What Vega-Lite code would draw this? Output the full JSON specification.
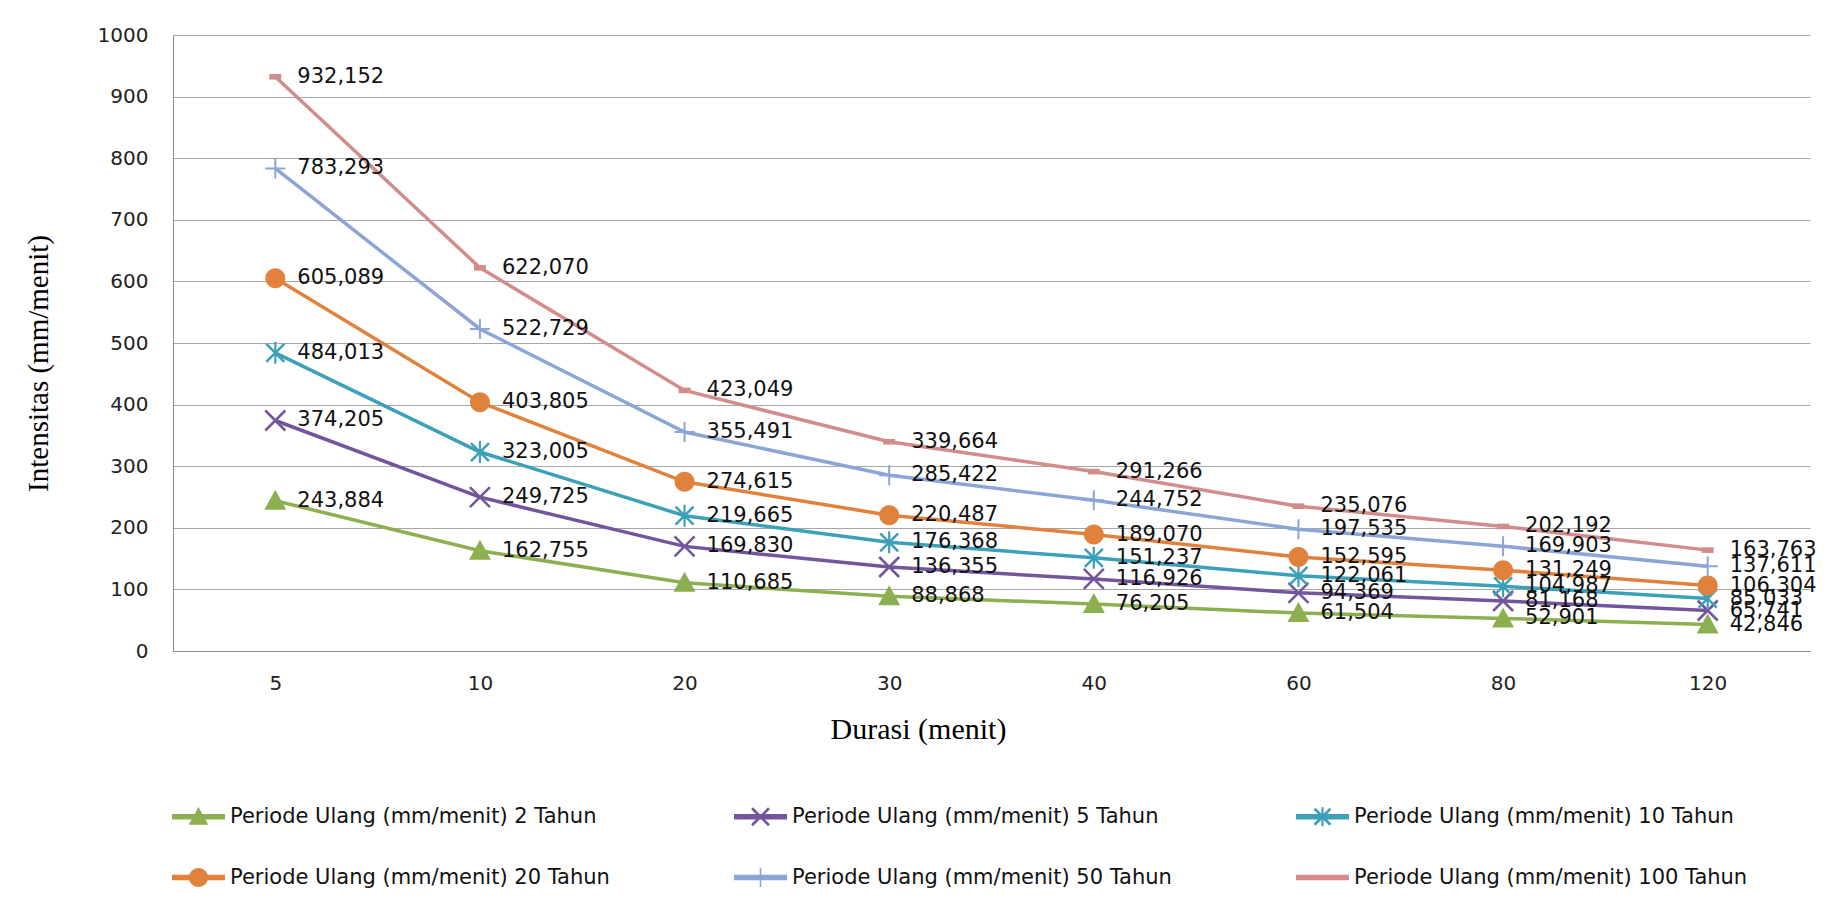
{
  "$schema": "https://vega.github.io/schema/vega-lite/v6.json",
  "width": 1637,
  "height": 616,
  "autosize": "none",
  "padding": {"left": 173, "top": 35, "right": 19, "bottom": 260},
  "background": "white",
  "config": {
    "locale": {"number": {"decimal": ",", "thousands": ".", "grouping": [3], "currency": ["", ""]}},
    "view": {"stroke": null},
    "axis": {
      "domainColor": "#8c8c8c",
      "gridColor": "#a6a6a6",
      "ticks": false,
      "tickSize": 0,
      "labelFont": "DejaVu Sans",
      "labelFontSize": 20,
      "labelColor": "#222222",
      "titleFont": "Liberation Serif",
      "titleFontSize": 30,
      "titleFontWeight": "normal",
      "titleColor": "#000000"
    },
    "legend": {
      "symbolStrokeWidth": 0,
      "labelFont": "DejaVu Sans",
      "labelFontSize": 21,
      "labelColor": "#111111",
      "labelLimit": 1000,
      "padding": 0
    }
  },
  "data": {
    "values": [
      {"d": 5, "series": "Periode Ulang (mm/menit) 2 Tahun", "v": 243.884},
      {"d": 10, "series": "Periode Ulang (mm/menit) 2 Tahun", "v": 162.755},
      {"d": 20, "series": "Periode Ulang (mm/menit) 2 Tahun", "v": 110.685},
      {"d": 30, "series": "Periode Ulang (mm/menit) 2 Tahun", "v": 88.868},
      {"d": 40, "series": "Periode Ulang (mm/menit) 2 Tahun", "v": 76.205},
      {"d": 60, "series": "Periode Ulang (mm/menit) 2 Tahun", "v": 61.504},
      {"d": 80, "series": "Periode Ulang (mm/menit) 2 Tahun", "v": 52.901},
      {"d": 120, "series": "Periode Ulang (mm/menit) 2 Tahun", "v": 42.846},
      {"d": 5, "series": "Periode Ulang (mm/menit) 5 Tahun", "v": 374.205},
      {"d": 10, "series": "Periode Ulang (mm/menit) 5 Tahun", "v": 249.725},
      {"d": 20, "series": "Periode Ulang (mm/menit) 5 Tahun", "v": 169.830},
      {"d": 30, "series": "Periode Ulang (mm/menit) 5 Tahun", "v": 136.355},
      {"d": 40, "series": "Periode Ulang (mm/menit) 5 Tahun", "v": 116.926},
      {"d": 60, "series": "Periode Ulang (mm/menit) 5 Tahun", "v": 94.369},
      {"d": 80, "series": "Periode Ulang (mm/menit) 5 Tahun", "v": 81.168},
      {"d": 120, "series": "Periode Ulang (mm/menit) 5 Tahun", "v": 65.741},
      {"d": 5, "series": "Periode Ulang (mm/menit) 10 Tahun", "v": 484.013},
      {"d": 10, "series": "Periode Ulang (mm/menit) 10 Tahun", "v": 323.005},
      {"d": 20, "series": "Periode Ulang (mm/menit) 10 Tahun", "v": 219.665},
      {"d": 30, "series": "Periode Ulang (mm/menit) 10 Tahun", "v": 176.368},
      {"d": 40, "series": "Periode Ulang (mm/menit) 10 Tahun", "v": 151.237},
      {"d": 60, "series": "Periode Ulang (mm/menit) 10 Tahun", "v": 122.061},
      {"d": 80, "series": "Periode Ulang (mm/menit) 10 Tahun", "v": 104.987},
      {"d": 120, "series": "Periode Ulang (mm/menit) 10 Tahun", "v": 85.033},
      {"d": 5, "series": "Periode Ulang (mm/menit) 20 Tahun", "v": 605.089},
      {"d": 10, "series": "Periode Ulang (mm/menit) 20 Tahun", "v": 403.805},
      {"d": 20, "series": "Periode Ulang (mm/menit) 20 Tahun", "v": 274.615},
      {"d": 30, "series": "Periode Ulang (mm/menit) 20 Tahun", "v": 220.487},
      {"d": 40, "series": "Periode Ulang (mm/menit) 20 Tahun", "v": 189.070},
      {"d": 60, "series": "Periode Ulang (mm/menit) 20 Tahun", "v": 152.595},
      {"d": 80, "series": "Periode Ulang (mm/menit) 20 Tahun", "v": 131.249},
      {"d": 120, "series": "Periode Ulang (mm/menit) 20 Tahun", "v": 106.304},
      {"d": 5, "series": "Periode Ulang (mm/menit) 50 Tahun", "v": 783.293},
      {"d": 10, "series": "Periode Ulang (mm/menit) 50 Tahun", "v": 522.729},
      {"d": 20, "series": "Periode Ulang (mm/menit) 50 Tahun", "v": 355.491},
      {"d": 30, "series": "Periode Ulang (mm/menit) 50 Tahun", "v": 285.422},
      {"d": 40, "series": "Periode Ulang (mm/menit) 50 Tahun", "v": 244.752},
      {"d": 60, "series": "Periode Ulang (mm/menit) 50 Tahun", "v": 197.535},
      {"d": 80, "series": "Periode Ulang (mm/menit) 50 Tahun", "v": 169.903},
      {"d": 120, "series": "Periode Ulang (mm/menit) 50 Tahun", "v": 137.611},
      {"d": 5, "series": "Periode Ulang (mm/menit) 100 Tahun", "v": 932.152},
      {"d": 10, "series": "Periode Ulang (mm/menit) 100 Tahun", "v": 622.070},
      {"d": 20, "series": "Periode Ulang (mm/menit) 100 Tahun", "v": 423.049},
      {"d": 30, "series": "Periode Ulang (mm/menit) 100 Tahun", "v": 339.664},
      {"d": 40, "series": "Periode Ulang (mm/menit) 100 Tahun", "v": 291.266},
      {"d": 60, "series": "Periode Ulang (mm/menit) 100 Tahun", "v": 235.076},
      {"d": 80, "series": "Periode Ulang (mm/menit) 100 Tahun", "v": 202.192},
      {"d": 120, "series": "Periode Ulang (mm/menit) 100 Tahun", "v": 163.763}
    ]
  },
  "layer": [
    {
      "mark": {"type": "line", "strokeWidth": 3.5},
      "encoding": {
        "x": {
          "field": "d", "type": "ordinal",
          "scale": {"type": "point", "padding": 0.5, "domain": [5, 10, 20, 30, 40, 60, 80, 120]},
          "axis": {"title": "Durasi (menit)", "labelAngle": 0, "grid": false, "labelPadding": 22, "titleX": 745, "titleY": 87, "titleBaseline": "alphabetic"}
        },
        "y": {
          "field": "v", "type": "quantitative",
          "scale": {"domain": [0, 1000], "nice": false, "zero": true},
          "axis": {"title": "Intensitas (mm/menit)", "values": [0, 100, 200, 300, 400, 500, 600, 700, 800, 900, 1000], "format": "d", "grid": true, "labelPadding": 25, "titleX": -126, "titleY": 328, "titleBaseline": "alphabetic", "titleFontSize": 29, "titleAngle": 270}
        },
        "color": {
          "field": "series", "type": "nominal",
          "scale": {
            "domain": ["Periode Ulang (mm/menit) 2 Tahun", "Periode Ulang (mm/menit) 5 Tahun", "Periode Ulang (mm/menit) 10 Tahun", "Periode Ulang (mm/menit) 20 Tahun", "Periode Ulang (mm/menit) 50 Tahun", "Periode Ulang (mm/menit) 100 Tahun"],
            "range": ["#8CAF50", "#73559B", "#3CA0B9", "#E1823C", "#8CA5D7", "#D28C8C"]
          },
          "legend": null
        }
      }
    },
    {
      "mark": {"type": "point", "filled": true, "opacity": 1, "size": 400, "strokeWidth": 0},
      "encoding": {
        "x": {"field": "d", "type": "ordinal"},
        "y": {"field": "v", "type": "quantitative"},
        "color": {"field": "series", "type": "nominal", "legend": null},
        "shape": {
          "field": "series", "type": "nominal",
          "scale": {
            "domain": ["Periode Ulang (mm/menit) 2 Tahun", "Periode Ulang (mm/menit) 5 Tahun", "Periode Ulang (mm/menit) 10 Tahun", "Periode Ulang (mm/menit) 20 Tahun", "Periode Ulang (mm/menit) 50 Tahun", "Periode Ulang (mm/menit) 100 Tahun"],
            "range": [
              "M0,-1.1L1.1,0.9H-1.1Z",
              "M-0.91,-1.09L1.09,0.91L0.91,1.09L-1.09,-0.91Z M-1.09,0.91L0.91,-1.09L1.09,-0.91L-0.91,1.09Z",
              "M-0.81,-0.99L0.99,0.81L0.81,0.99L-0.99,-0.81Z M-0.99,0.81L0.81,-0.99L0.99,-0.81L-0.81,0.99Z M-0.11,-1.1H0.11V1.1H-0.11Z",
              "M-1,0A1,1 0 1,1 1,0A1,1 0 1,1 -1,0Z",
              "M-1,-0.1H1V0.1H-1Z M-0.1,-1H0.1V1H-0.1Z",
              "M-0.6,-0.28H0.6V0.28H-0.6Z"
            ]
          },
          "legend": null
        }
      }
    },
    {
      "mark": {"type": "text", "align": "left", "baseline": "middle", "dx": 22, "font": "DejaVu Sans", "fontSize": 21, "color": "#111111"},
      "encoding": {
        "x": {"field": "d", "type": "ordinal"},
        "y": {"field": "v", "type": "quantitative"},
        "text": {"field": "v", "type": "quantitative", "format": ".3f"}
      }
    },
    {
      "transform": [{"filter": "false"}],
      "mark": {"type": "point", "filled": true, "opacity": 1, "size": 2809, "strokeWidth": 0},
      "encoding": {
        "x": {"field": "d", "type": "ordinal"},
        "y": {"field": "v", "type": "quantitative"},
        "color": {
          "field": "series", "type": "nominal",
          "legend": {"title": null, "orient": "none", "legendX": -1, "legendY": 755, "direction": "horizontal", "columns": 3, "columnPadding": 124, "rowPadding": 24, "labelOffset": 5, "symbolSize": 2809}
        },
        "shape": {
          "field": "series", "type": "nominal",
          "scale": {
            "domain": ["Periode Ulang (mm/menit) 2 Tahun", "Periode Ulang (mm/menit) 5 Tahun", "Periode Ulang (mm/menit) 10 Tahun", "Periode Ulang (mm/menit) 20 Tahun", "Periode Ulang (mm/menit) 50 Tahun", "Periode Ulang (mm/menit) 100 Tahun"],
            "range": [
              "M-1,-0.1H1V0.1H-1Z M0,-0.37L0.37,0.3H-0.37Z",
              "M-1,-0.1H1V0.1H-1Z M-0.285,-0.355L0.355,0.285L0.285,0.355L-0.355,-0.285Z M-0.355,0.285L0.285,-0.355L0.355,-0.285L-0.285,0.355Z",
              "M-1,-0.1H1V0.1H-1Z M-0.265,-0.335L0.335,0.265L0.265,0.335L-0.335,-0.265Z M-0.335,0.265L0.265,-0.335L0.335,-0.265L-0.265,0.335Z M-0.04,-0.36H0.04V0.36H-0.04Z",
              "M-1,-0.1H1V0.1H-1Z M-0.36,0A0.36,0.36 0 1,1 0.36,0A0.36,0.36 0 1,1 -0.36,0Z",
              "M-1,-0.1H1V0.1H-1Z M-0.03,-0.36H0.03V0.36H-0.03Z",
              "M-1,-0.1H1V0.1H-1Z"
            ]
          },
          "legend": {"title": null, "orient": "none", "legendX": -1, "legendY": 755, "direction": "horizontal", "columns": 3, "columnPadding": 124, "rowPadding": 24, "labelOffset": 5, "symbolSize": 2809}
        }
      }
    }
  ],
  "resolve": {"scale": {"shape": "independent"}, "legend": {"color": "independent", "shape": "independent"}}
}
